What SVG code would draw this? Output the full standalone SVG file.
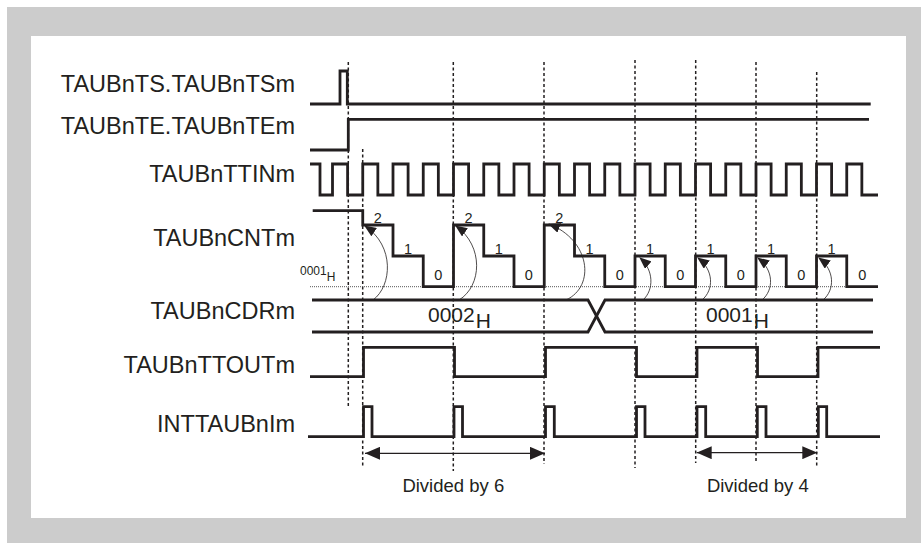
<svg xmlns="http://www.w3.org/2000/svg" width="921" height="543" viewBox="0 0 921 543">
<style>
.lbl{font-family:"Liberation Sans",Arial,sans-serif;font-size:23.5px;fill:#231f20;text-anchor:end}
.dig{font-family:"Liberation Sans",Arial,sans-serif;font-size:14.5px;fill:#231f20;text-anchor:middle}
.val{font-family:"Liberation Sans",Arial,sans-serif;font-size:21px;fill:#231f20}
.sm{font-family:"Liberation Sans",Arial,sans-serif;font-size:12px;fill:#231f20}
.cap{font-family:"Liberation Sans",Arial,sans-serif;font-size:18.5px;fill:#231f20;text-anchor:middle}
.sig{fill:none;stroke:#231f20;stroke-width:2.8;stroke-linejoin:miter;stroke-linecap:butt}
.dash{fill:none;stroke:#231f20;stroke-width:1.5;stroke-dasharray:3 2.5}
.curve{fill:none;stroke:#231f20;stroke-width:0.8}
.dim{fill:none;stroke:#231f20;stroke-width:1.2}
</style>
<defs>
<marker id="ch" viewBox="0 0 12 10" refX="11" refY="5" markerWidth="12" markerHeight="10" markerUnits="userSpaceOnUse" orient="auto"><path d="M0,0 L12,5 L0,10 z" fill="#231f20"/></marker>
<marker id="ah" viewBox="0 0 15 13" refX="15" refY="6.5" markerWidth="15" markerHeight="13" markerUnits="userSpaceOnUse" orient="auto-start-reverse"><path d="M0,0 L15,6.5 L0,13 z" fill="#231f20"/></marker>
</defs>
<rect x="7" y="7" width="914" height="536" fill="#cccccc"/>
<rect x="31" y="36" width="875" height="482" fill="#ffffff"/>

<g id="labels">
<text class="lbl" x="295" y="92.3">TAUBnTS.TAUBnTSm</text>
<text class="lbl" x="295" y="134">TAUBnTE.TAUBnTEm</text>
<text class="lbl" x="295" y="182.3">TAUBnTTINm</text>
<text class="lbl" x="295" y="245.7">TAUBnCNTm</text>
<text class="lbl" x="295" y="319">TAUBnCDRm</text>
<text class="lbl" x="295" y="373">TAUBnTTOUTm</text>
<text class="lbl" x="295" y="431.7">INTTAUBnIm</text>
</g>

<g id="gridlines">
<line class="dash" x1="348.3" y1="62" x2="348.3" y2="407"/>
<line class="dash" x1="362.7" y1="149" x2="362.7" y2="468"/>
<line class="dash" x1="453.3" y1="62" x2="453.3" y2="471"/>
<line class="dash" x1="544" y1="62" x2="544" y2="464"/>
<line class="dash" x1="635" y1="60" x2="635" y2="468"/>
<line class="dash" x1="695.7" y1="60" x2="695.7" y2="463"/>
<line class="dash" x1="756" y1="62" x2="756" y2="463"/>
<line class="dash" x1="816.7" y1="72" x2="816.7" y2="466"/>
</g>

<g id="sig-ts"><path class="sig" d="M310,104 H340 V71 H347.3 V104 H870.7"/></g>
<g id="sig-te"><path class="sig" d="M310,150 H348.3 V119.3 H869"/></g>
<g id="sig-ttin"><path class="sig" d="M310,164 H320 V195 H332.5 V164 H347.6 V195 H362.75 V164 H377.85 V195 H393 V164 H408.1 V195 H423.25 V164 H438.35 V195 H453.5 V164 H468.6 V195 H483.75 V164 H498.85 V195 H514 V164 H529.1 V195 H544.25 V164 H559.35 V195 H574.5 V164 H589.6 V195 H604.75 V164 H619.85 V195 H635 V164 H650.1 V195 H665.25 V164 H680.35 V195 H695.5 V164 H710.6 V195 H725.75 V164 H740.85 V195 H756 V164 H771.1 V195 H786.25 V164 H801.35 V195 H816.5 V164 H831.6 V195 H846.75 V164 H861.85 V195 H878"/></g>

<g id="sig-cnt">
<line x1="310" y1="286.7" x2="878" y2="286.7" stroke="#555" stroke-width="1" stroke-dasharray="1 1"/>
<path class="sig" d="M312.7,210.7 H362.75 V225 H393 V256 H423.25 V286.7 H453.5 V225 H483.75 V256 H514 V286.7 H544.25 V225 H574.5 V256 H604.75 V286.7 H635 V256 H665.25 V286.7 H695.5 V256 H725.75 V286.7 H756 V256 H786.25 V286.7 H816.5 V256 H846.75 V286.7 H878"/>
<text class="sm" x="300" y="275">0001<tspan dy="6">H</tspan></text>
<text class="dig" x="377.9" y="223">2</text>
<text class="dig" x="468.6" y="223">2</text>
<text class="dig" x="559.4" y="223">2</text>
<text class="dig" x="408.1" y="253.5">1</text>
<text class="dig" x="498.9" y="253.5">1</text>
<text class="dig" x="589.6" y="253.5">1</text>
<text class="dig" x="650.1" y="253.5">1</text>
<text class="dig" x="710.6" y="253.5">1</text>
<text class="dig" x="771.1" y="253.5">1</text>
<text class="dig" x="831.6" y="253.5">1</text>
<text class="dig" x="438.4" y="280">0</text>
<text class="dig" x="528.9" y="280">0</text>
<text class="dig" x="619.9" y="280">0</text>
<text class="dig" x="680.4" y="280">0</text>
<text class="dig" x="740.9" y="280">0</text>
<text class="dig" x="801.4" y="280">0</text>
<text class="dig" x="862.4" y="280">0</text>
</g>

<g id="reload-arrows">
<path class="curve" marker-end="url(#ch)" d="M373,300 C392,286 395,246 365,226"/>
<path class="curve" marker-end="url(#ch)" d="M459,300 C482,286 484,246 456,226"/>
<path class="curve" marker-end="url(#ch)" d="M566,300 C596,286 590,240 549,224"/>
<path class="curve" marker-end="url(#ch)" d="M643,300 C654,290 654,270 640,258"/>
<path class="curve" marker-end="url(#ch)" d="M702,300 C714,290 714,270 698,258"/>
<path class="curve" marker-end="url(#ch)" d="M762,300 C774,290 774,270 758,258"/>
<path class="curve" marker-end="url(#ch)" d="M823,300 C835,290 835,270 819,258"/>
</g>

<g id="sig-cdr">
<path class="sig" d="M312,300 H588 L605,332 H873"/>
<path class="sig" d="M312,332 H588 L605,300 H873"/>
<text class="val" x="428" y="321.7">0002<tspan dy="6.3" dx="1">H</tspan></text>
<text class="val" x="706" y="321.7">0001<tspan dy="6.3" dx="1">H</tspan></text>
</g>

<g id="sig-ttout"><path class="sig" d="M310,376.7 H363.5 V347.3 H454.5 V376.7 H545.5 V347.3 H636.5 V376.7 H697 V347.3 H757.5 V376.7 H818 V347.3 H880"/></g>

<g id="sig-int"><path class="sig" d="M308,436.7 H363.5 V406.7 H372 V436.7 H454 V406.7 H462.5 V436.7 H545.5 V406.7 H554.3 V436.7 H636.5 V406.7 H645 V436.7 H697 V406.7 H705.7 V436.7 H757.3 V406.7 H766 V436.7 H818.3 V406.7 H826.7 V436.7 H880"/></g>

<g id="dimensions">
<line class="dim" x1="365" y1="453.3" x2="545" y2="453.3" marker-start="url(#ah)" marker-end="url(#ah)"/>
<line class="dim" x1="696.7" y1="452.7" x2="817.3" y2="452.7" marker-start="url(#ah)" marker-end="url(#ah)"/>
<text class="cap" x="453.3" y="491.7">Divided by 6</text>
<text class="cap" x="757.8" y="491.7">Divided by 4</text>
</g>
</svg>
